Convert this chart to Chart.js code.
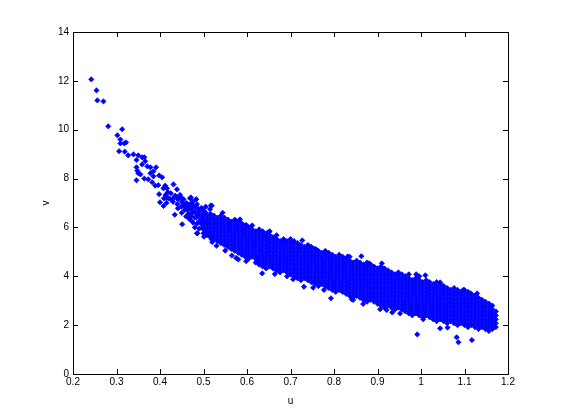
<!DOCTYPE html>
<html>
<head>
<meta charset="utf-8">
<style>
  html, body { margin: 0; padding: 0; background: #fff; }
  canvas { display: block; }
</style>
<script src="https://cdn.jsdelivr.net/npm/chart.js@4"></script>
</head>
<body>
<canvas id="scatterChart" width="561" height="420"></canvas>
<script>
const xTicks = [0.2, 0.3, 0.4, 0.5, 0.6, 0.7, 0.8, 0.9, 1, 1.1, 1.2];
const yTicks = [0, 2, 4, 6, 8, 10, 12, 14];

// scattered points
const sparseU = [0.242,0.254,0.256,0.270,0.281,0.313,0.302,0.309,0.309,0.322,0.318,0.306,0.319,0.327,0.339,0.350,0.346,0.359,0.364,0.366,
  0.359,0.371,0.378,0.391,0.385,0.346,0.348,0.350,0.355,0.378,0.385,0.398,0.405,0.346,0.364,0.373,0.382,0.389,0.396,0.431,
  0.412,0.408,0.416,0.439,0.398,0.418,0.413,0.425,0.409,0.415,0.430,0.446,0.400,0.441,0.408,0.415,0.454,0.469,0.483,0.434,
  0.451,0.441,0.449,0.457,0.462,0.476,0.487,0.517,0.544,0.584,0.485,0.501,0.460,0.472,0.476,0.483,0.495,0.505,0.515,0.498,
  0.509,0.485,0.464,0.472,0.471,0.483,0.519,0.486,0.519,0.598,0.628,0.651,0.727,0.743,0.759,0.686,0.706,0.780,0.832,0.580,
  0.598,0.624,0.635,0.664,0.706,0.731,0.752,0.777,0.793,0.841,0.9915,1.082,1.086,1.117,1.044,1.061,0.863,0.831,0.881,0.910,
  0.989,1.010,1.044,1.097,1.129,1.113,0.906,0.934,0.952,0.921,1.005,0.867,0.844,
  0.440,0.450,0.455,0.460,0.465,0.470,0.475,0.480,0.480,0.485,0.490,0.490,0.495,0.495,0.500,0.505,0.470,0.465,0.480,0.490,
  0.420,0.425,0.430,0.435,0.440,0.450,
  0.460,0.465,0.470,0.475,0.480,0.485,0.490,0.495,0.505,0.510,0.520,0.530,0.550,0.565,0.575,0.450];
const sparseV = [12.06,11.61,11.2,11.16,10.14,10.02,9.77,9.6,9.44,9.48,9.44,9.12,9.1,8.95,8.99,8.95,8.76,8.87,8.87,8.71,
  8.58,8.5,8.46,8.46,8.3,8.46,8.32,8.22,8.17,8.22,8.09,8.13,8.05,7.93,8.0,7.97,7.85,7.71,7.73,7.76,
  7.71,7.6,7.6,7.56,7.36,7.44,7.33,7.4,7.19,7.19,7.19,7.33,7.03,7.15,6.88,7.0,7.15,7.19,7.15,6.52,
  6.13,6.78,6.85,6.72,6.98,6.9,6.78,6.9,6.6,6.33,5.76,5.62,6.45,6.45,6.2,6.4,6.3,6.6,6.75,6.0,
  6.2,6.15,6.7,6.75,7.23,7.15,5.51,5.76,6.89,6.1,5.87,5.82,5.47,5.21,5.1,5.46,5.39,4.94,4.8,4.69,
  4.62,4.62,4.12,4.09,3.88,3.57,3.53,3.44,3.1,3.06,1.62,1.5,1.3,1.39,1.87,1.9,4.82,4.8,4.53,4.53,
  4.08,4.04,3.75,3.44,3.3,3.3,2.65,2.52,2.48,2.62,2.24,2.87,3.03,
  6.95,7.05,6.9,6.8,6.85,6.95,6.6,6.65,6.85,6.55,6.45,6.65,6.15,6.5,6.7,5.9,6.3,6.55,6.0,5.95,
  7.2,7.15,7.05,7.3,7.2,7.2,
  7.0,6.4,6.55,7.05,6.4,6.95,6.25,6.8,6.85,5.75,5.4,5.25,5.05,4.85,4.75,6.6];

// the dense band, estimated strip by strip from its upper and lower edge
const bandU = [0.500,0.508,0.516,0.524,0.532,0.540,0.548,0.556,0.564,0.572,0.580,0.588,0.596,0.604,0.612,0.620,0.628,0.636,0.644,0.652,
  0.660,0.668,0.676,0.684,0.692,0.700,0.708,0.716,0.724,0.732,0.740,0.748,0.756,0.764,0.772,0.780,0.788,0.796,0.804,0.812,
  0.820,0.828,0.836,0.844,0.852,0.860,0.868,0.876,0.884,0.892,0.900,0.908,0.916,0.924,0.932,0.940,0.948,0.956,0.964,0.972,
  0.980,0.988,0.996,1.004,1.012,1.020,1.028,1.036,1.044,1.052,1.060,1.068,1.076,1.084,1.092,1.100,1.108,1.116,1.124,1.132,
  1.140,1.148,1.156,1.164,1.172];
const bandV = [
  [6.56,6.4,6.24,6.08,5.92,5.76],
  [6.48,6.32,6.16,6.0,5.84,5.68],
  [6.56,6.4,6.24,6.08,5.92,5.76,5.6],
  [6.48,6.32,6.16,6.0,5.84,5.68,5.52],
  [6.4,6.24,6.08,5.92,5.76,5.6,5.44],
  [6.48,6.32,6.16,6.0,5.84,5.68,5.52,5.36],
  [6.4,6.24,6.08,5.92,5.76,5.6,5.44,5.28],
  [6.32,6.16,6.0,5.84,5.68,5.52,5.36,5.2],
  [6.24,6.08,5.92,5.76,5.6,5.44,5.28,5.12],
  [6.32,6.16,6.0,5.84,5.68,5.52,5.36,5.2,5.04],
  [6.24,6.08,5.92,5.76,5.6,5.44,5.28,5.12,4.96],
  [6.16,6.0,5.84,5.68,5.52,5.36,5.2,5.04,4.88],
  [6.08,5.92,5.76,5.6,5.44,5.28,5.12,4.96,4.8],
  [6.0,5.84,5.68,5.52,5.36,5.2,5.04,4.88,4.72],
  [6.08,5.92,5.76,5.6,5.44,5.28,5.12,4.96,4.8],
  [5.84,5.68,5.52,5.36,5.2,5.04,4.88,4.72,4.56],
  [5.92,5.76,5.6,5.44,5.28,5.12,4.96,4.8,4.64,4.48],
  [5.84,5.68,5.52,5.36,5.2,5.04,4.88,4.72,4.56,4.4],
  [5.76,5.6,5.44,5.28,5.12,4.96,4.8,4.64,4.48,4.32],
  [5.84,5.68,5.52,5.36,5.2,5.04,4.88,4.72,4.56,4.4],
  [5.6,5.44,5.28,5.12,4.96,4.8,4.64,4.48,4.32],
  [5.68,5.52,5.36,5.2,5.04,4.88,4.72,4.56,4.4,4.24],
  [5.44,5.28,5.12,4.96,4.8,4.64,4.48,4.32,4.16],
  [5.52,5.36,5.2,5.04,4.88,4.72,4.56,4.4,4.24],
  [5.44,5.28,5.12,4.96,4.8,4.64,4.48,4.32,4.16,4.0],
  [5.52,5.36,5.2,5.04,4.88,4.72,4.56,4.4,4.24,4.08],
  [5.44,5.28,5.12,4.96,4.8,4.64,4.48,4.32,4.16,4.0],
  [5.36,5.2,5.04,4.88,4.72,4.56,4.4,4.24,4.08,3.92],
  [5.28,5.12,4.96,4.8,4.64,4.48,4.32,4.16,4.0,3.84],
  [5.2,5.04,4.88,4.72,4.56,4.4,4.24,4.08,3.92],
  [5.28,5.12,4.96,4.8,4.64,4.48,4.32,4.16,4.0,3.84],
  [5.2,5.04,4.88,4.72,4.56,4.4,4.24,4.08,3.92,3.76],
  [5.12,4.96,4.8,4.64,4.48,4.32,4.16,4.0,3.84,3.68],
  [5.04,4.88,4.72,4.56,4.4,4.24,4.08,3.92,3.76,3.6],
  [4.96,4.8,4.64,4.48,4.32,4.16,4.0,3.84,3.68],
  [5.04,4.88,4.72,4.56,4.4,4.24,4.08,3.92,3.76,3.6],
  [4.96,4.8,4.64,4.48,4.32,4.16,4.0,3.84,3.68,3.52],
  [4.88,4.72,4.56,4.4,4.24,4.08,3.92,3.76,3.6,3.44],
  [4.8,4.64,4.48,4.32,4.16,4.0,3.84,3.68,3.52,3.36],
  [4.88,4.72,4.56,4.4,4.24,4.08,3.92,3.76,3.6,3.44],
  [4.8,4.64,4.48,4.32,4.16,4.0,3.84,3.68,3.52,3.36],
  [4.72,4.56,4.4,4.24,4.08,3.92,3.76,3.6,3.44,3.28],
  [4.8,4.64,4.48,4.32,4.16,4.0,3.84,3.68,3.52,3.36,3.2],
  [4.56,4.4,4.24,4.08,3.92,3.76,3.6,3.44,3.28,3.12],
  [4.64,4.48,4.32,4.16,4.0,3.84,3.68,3.52,3.36,3.2],
  [4.56,4.4,4.24,4.08,3.92,3.76,3.6,3.44,3.28,3.12],
  [4.48,4.32,4.16,4.0,3.84,3.68,3.52,3.36,3.2,3.04],
  [4.56,4.4,4.24,4.08,3.92,3.76,3.6,3.44,3.28,3.12,2.96],
  [4.48,4.32,4.16,4.0,3.84,3.68,3.52,3.36,3.2,3.04],
  [4.4,4.24,4.08,3.92,3.76,3.6,3.44,3.28,3.12,2.96],
  [4.32,4.16,4.0,3.84,3.68,3.52,3.36,3.2,3.04,2.88],
  [4.4,4.24,4.08,3.92,3.76,3.6,3.44,3.28,3.12,2.96,2.8],
  [4.32,4.16,4.0,3.84,3.68,3.52,3.36,3.2,3.04,2.88,2.72],
  [4.24,4.08,3.92,3.76,3.6,3.44,3.28,3.12,2.96,2.8],
  [4.16,4.0,3.84,3.68,3.52,3.36,3.2,3.04,2.88,2.72],
  [4.08,3.92,3.76,3.6,3.44,3.28,3.12,2.96,2.8,2.64],
  [4.16,4.0,3.84,3.68,3.52,3.36,3.2,3.04,2.88,2.72],
  [4.08,3.92,3.76,3.6,3.44,3.28,3.12,2.96,2.8,2.64],
  [4.0,3.84,3.68,3.52,3.36,3.2,3.04,2.88,2.72,2.56],
  [4.08,3.92,3.76,3.6,3.44,3.28,3.12,2.96,2.8,2.64,2.48],
  [3.84,3.68,3.52,3.36,3.2,3.04,2.88,2.72,2.56,2.4],
  [3.92,3.76,3.6,3.44,3.28,3.12,2.96,2.8,2.64,2.48],
  [4.0,3.84,3.68,3.52,3.36,3.2,3.04,2.88,2.72,2.56,2.4],
  [3.76,3.6,3.44,3.28,3.12,2.96,2.8,2.64,2.48,2.32],
  [3.84,3.68,3.52,3.36,3.2,3.04,2.88,2.72,2.56,2.4],
  [3.76,3.6,3.44,3.28,3.12,2.96,2.8,2.64,2.48,2.32],
  [3.68,3.52,3.36,3.2,3.04,2.88,2.72,2.56,2.4,2.24],
  [3.76,3.6,3.44,3.28,3.12,2.96,2.8,2.64,2.48,2.32,2.16],
  [3.68,3.52,3.36,3.2,3.04,2.88,2.72,2.56,2.4,2.24],
  [3.6,3.44,3.28,3.12,2.96,2.8,2.64,2.48,2.32,2.16],
  [3.52,3.36,3.2,3.04,2.88,2.72,2.56,2.4,2.24,2.08],
  [3.44,3.28,3.12,2.96,2.8,2.64,2.48,2.32,2.16],
  [3.52,3.36,3.2,3.04,2.88,2.72,2.56,2.4,2.24,2.08],
  [3.44,3.28,3.12,2.96,2.8,2.64,2.48,2.32,2.16,2.0],
  [3.36,3.2,3.04,2.88,2.72,2.56,2.4,2.24,2.08],
  [3.44,3.28,3.12,2.96,2.8,2.64,2.48,2.32,2.16,2.0],
  [3.36,3.2,3.04,2.88,2.72,2.56,2.4,2.24,2.08,1.92],
  [3.28,3.12,2.96,2.8,2.64,2.48,2.32,2.16,2.0],
  [3.2,3.04,2.88,2.72,2.56,2.4,2.24,2.08,1.92],
  [3.12,2.96,2.8,2.64,2.48,2.32,2.16,2.0,1.84],
  [3.04,2.88,2.72,2.56,2.4,2.24,2.08,1.92],
  [2.96,2.8,2.64,2.48,2.32,2.16,2.0,1.84],
  [2.88,2.72,2.56,2.4,2.24,2.08,1.92,1.76],
  [2.8,2.64,2.48,2.32,2.16,2.0,1.84],
  [2.56,2.4,2.24,2.08,1.92]
];

const points = sparseU.map((u, i) => ({ x: u, y: sparseV[i] }));
bandU.forEach((u, i) => {
  bandV[i].forEach(v => points.push({ x: u, y: v }));
});

// inward ticks on all four sides
const insideTicks = {
  id: "insideTicks",
  afterDraw(chart) {
    const { ctx, chartArea: a, scales } = chart;
    ctx.save();
    ctx.strokeStyle = "#000";
    ctx.lineWidth = 1;
    ctx.beginPath();
    xTicks.forEach(t => {
      const x = Math.round(scales.x.getPixelForValue(t)) + 0.5;
      ctx.moveTo(x, a.bottom); ctx.lineTo(x, a.bottom - 5);
      ctx.moveTo(x, a.top); ctx.lineTo(x, a.top + 5);
    });
    yTicks.forEach(t => {
      const y = Math.round(scales.y.getPixelForValue(t)) + 0.5;
      ctx.moveTo(a.left, y); ctx.lineTo(a.left + 5, y);
      ctx.moveTo(a.right, y); ctx.lineTo(a.right - 5, y);
    });
    ctx.stroke();
    ctx.strokeRect(a.left + 0.5, a.top + 0.5, a.right - a.left, a.bottom - a.top);
    ctx.restore();
  }
};

const font = { family: "Liberation Sans", size: 10 };

new Chart(document.getElementById("scatterChart"), {
  type: "scatter",
  data: {
    datasets: [{
      data: points,
      pointStyle: "rectRot",
      pointRadius: 2.6,
      pointBorderWidth: 0.8,
      backgroundColor: "#0000ff",
      borderColor: "#0000ff"
    }]
  },
  options: {
    responsive: false,
    animation: false,
    layout: { padding: { top: 32, right: 53, left: 0, bottom: 0 } },
    plugins: { legend: { display: false }, tooltip: { enabled: false } },
    scales: {
      x: {
        type: "linear",
        min: 0.2,
        max: 1.2,
        afterBuildTicks: s => { s.ticks = xTicks.map(v => ({ value: v })); },
        afterFit: s => { s.height = 46; },
        grid: { display: false, tickLength: 0 },
        border: { display: false },
        ticks: { color: "#000", font, padding: 2, maxRotation: 0, callback: v => String(v) },
        title: { display: true, text: "u", color: "#000", font, padding: { top: 0, bottom: 13 } }
      },
      y: {
        type: "linear",
        min: 0,
        max: 14,
        afterBuildTicks: s => { s.ticks = yTicks.map(v => ({ value: v })); },
        afterFit: s => { s.width = 73; },
        grid: { display: false, tickLength: 0 },
        border: { display: false },
        ticks: { color: "#000", font, padding: 4, callback: v => String(v) },
        title: { display: true, text: "v", color: "#000", font, padding: { top: 40, bottom: 0 } }
      }
    }
  },
  plugins: [insideTicks]
});
</script>
</body>
</html>
